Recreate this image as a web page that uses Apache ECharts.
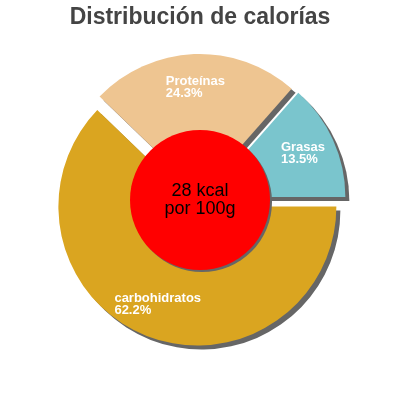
<!DOCTYPE html>
<html>
<head>
<meta charset="utf-8">
<script src="https://cdn.jsdelivr.net/npm/echarts@6/dist/echarts.min.js"></script>
<style>
html,body{margin:0;padding:0;background:#fff;}
#c{width:400px;height:400px;}
</style>
</head>
<body>
<div id="c"></div>
<script>
var titleText = 'Distribución de calorías';
var categories = ['Grasas', 'Proteínas', 'carbohidratos'];
var values = [13.5, 24.3, 62.2];
var colors = ['#7AC5CD', '#EEC591', '#DAA520'];
var energyValue = 28;
var energyLines = ['28 kcal', 'por 100g'];

var sliceData = categories.map(function (c, i) {
  return { name: c, value: values[i], selected: true, itemStyle: { color: colors[i] } };
});
var labelData = categories.map(function (c, i) {
  return { name: c, value: values[i], selected: true };
});

var chart = echarts.init(document.getElementById('c'), null, { renderer: 'canvas' });
chart.setOption({
  animation: false,
  title: {
    text: titleText,
    left: 'center',
    top: 1,
    textStyle: { fontFamily: 'Liberation Sans, Arial, sans-serif', fontSize: 23, fontWeight: 'bold', color: '#444444' }
  },
  series: [
    {
      type: 'pie',
      center: ['50%', '50%'],
      radius: [0, 139],
      startAngle: 0,
      clockwise: false,
      selectedMode: 'multiple',
      selectedOffset: 7,
      silent: true,
      label: { show: false },
      labelLine: { show: false },
      itemStyle: { shadowColor: '#666666', shadowOffsetX: 4, shadowOffsetY: 4, shadowBlur: 0, borderWidth: 0 },
      emphasis: { disabled: true },
      data: sliceData
    },
    {
      type: 'pie',
      center: ['50%', '50%'],
      radius: [67, 139],
      startAngle: 0,
      clockwise: false,
      selectedMode: 'multiple',
      selectedOffset: 7,
      silent: true,
      percentPrecision: 1,
      itemStyle: { color: 'rgba(0,0,0,0)' },
      emphasis: { disabled: true },
      labelLine: { show: false },
      label: {
        show: true,
        position: 'inside',
        formatter: '{a|{b}}\n{a|{d}%}',
        rich: {
          a: { fontFamily: 'Liberation Sans, Arial, sans-serif', fontSize: 13, fontWeight: 'bold', color: '#ffffff', align: 'left', lineHeight: 12 }
        }
      },
      data: labelData
    },
    {
      type: 'pie',
      center: ['50%', '50%'],
      radius: [0, 70],
      silent: true,
      emphasis: { disabled: true },
      labelLine: { show: false },
      itemStyle: { color: '#ff0000', shadowColor: '#666666', shadowOffsetX: 2, shadowOffsetY: 2, shadowBlur: 0 },
      label: {
        show: true,
        position: 'center',
        formatter: energyLines.join('\n'),
        fontFamily: 'Liberation Sans, Arial, sans-serif',
        fontSize: 18,
        lineHeight: 18,
        color: '#000000'
      },
      data: [{ name: 'energía', value: energyValue }]
    }
  ]
});
</script>
</body>
</html>
